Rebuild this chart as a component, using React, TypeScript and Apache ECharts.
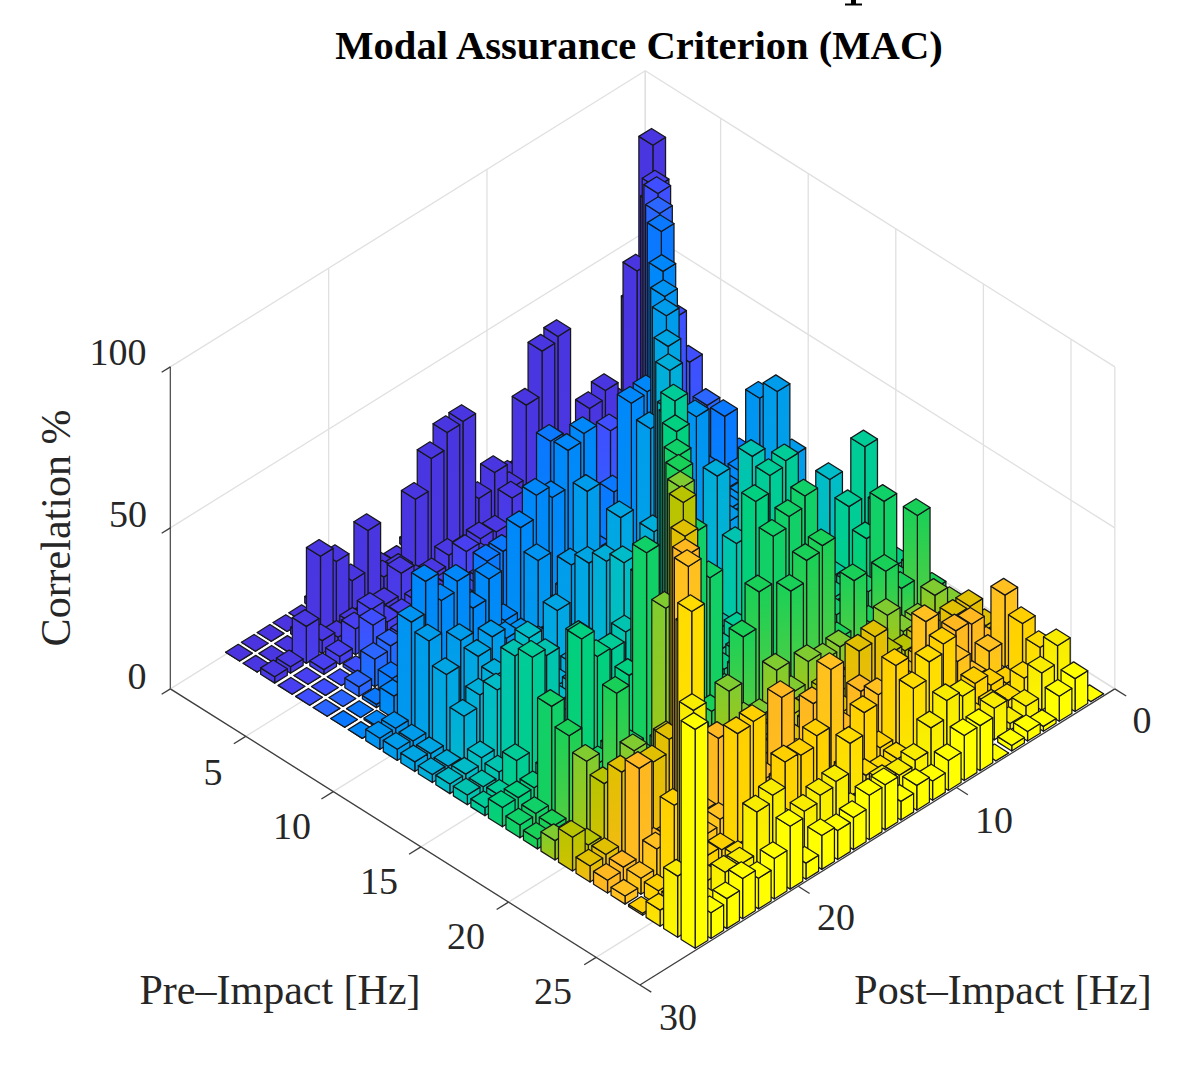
import React, { useEffect, useRef } from "react";
import * as echarts from "echarts";

const postCount = 26;
const preTicks = [5, 10, 15, 20, 25];
const postTicks = [0, 10, 20, 30];
const zTicks = [0, 50, 100];

const correlation: number[][] = [
  [34,6,3,4,3,3,2,4,5,3,3,2,2,3,2,0,1,0,0,1,2,0,0,0,0,0],
  [87,51,8,20,17.5,6,46,44.5,30.8,8,16,11,38,37.6,32.6,23,4,5,22.5,10,19,23.7,2,0,0,0],
  [10,75,6,5,8,4,6,5,3,6,11.5,4,5,4,6,3,4,9.6,3,2,3,2,4,11.5,2,2],
  [6,5,87,5,4,6,5,3,6,4,3,2,3,5,10.6,3,4,4,3,4,11,8,2.5,1.5,0,0],
  [5,33,49.6,91.5,6,5,27,4,5,3,6,4,5,3,5,4,6,5,3,3,3,12.6,1,0,0,0],
  [4,23,6,5,91.8,6,5,8,4,5,6,4,5,6,4,5,7,4,6,5,4,9.6,8.5,3,0,0],
  [8,23,9,6,10,92.7,7,5,21,6,5,8,49,6,7,24,24,5,6,4,5,3,6,1,0,0],
  [5,9,7,10,8,6,86.8,52.5,52,8,7,51.8,49.6,38,41.8,34.8,9,25,19,30.4,27.5,36.5,5,7,0.5,0],
  [6,35.5,8,7,10,42,9,85.5,8,6,9,8,7,12,9,28,8,10,6,5,5,8,6,33.4,3.5,3.5],
  [18,41,9,7,10,8,6,9,86,54,7,9,10,46.8,27,8,9,7,8,20,10,25,8,31,3,3.5],
  [7,6,8,5,7,9,8,6,5,83,8,7,39,10,31,9,22.4,8,7,9,6,23.5,6,24,2.5,3],
  [6,8,7,9,6,8,7,40,6,5,82,35,8,9,35,7,9,6,8,7,5,21,18,14.5,2,2.5],
  [7,24,6,8,7,5,9,7,8,6,8,76,7,32,38,8,6,9,7,8,33,9,23,5,3,3],
  [8,6,7,5,9,8,7,53,29,6,8,7,80,7,9,23,8,6,9,7,31,8,37,4,2.5,3],
  [6,41,25.5,7,8,5,52,50.5,7,9,6,8,7,92,6,7,5,27,8,37,7,9,40,11,3,2.5],
  [5,26,19,8,7,9,6,8,7,52,8,6,9,7,89,8,49.6,22.5,9,34.5,43,7,8,6,6,6],
  [7,6,34,9,7,8,6,51,47.7,44.6,8,9,6,44,61,88,8,64,7,9,8,6,7,34.7,4.5,4],
  [4,30,10.4,18.8,6,22,7,39,37.5,31,8,36.9,26,7,9,6,89.7,8,6,9,33,7,8,29,4,3],
  [3,8.6,4,3.5,11.6,5,4,11,10,12.6,6,16,5,7,18.7,6,5,91,56.7,6,18.6,5,7,24.5,4,6],
  [2,4,3,5,4,6,3,5,4,7,5,6,4,5,6,4,7,5,93,23,6,5,4,21,5,10.5],
  [3,12,12,4,5,3,6,21,19.6,4,5,6,4,5,6,4,5,6,4,89,29,25,5,28,5.5,5],
  [3,4,13,14,5,4,6,5,4,13.6,5,4,19,6,27,5,4,6,26.6,7,89.5,5,6,32.6,5,4],
  [2,22.4,8,3,11,4,29.5,5,4,16,6,5,33,6,5,7,4,6,5,8,6,92.6,7,11,5,2.5],
  [2,17,1.5,4,7.6,3,26,5,4,28.5,6,20,5,4,22,19,20,6,38.7,38,5,6,80,28,4.5,0.6],
  [1,13,6.5,2.7,4,3,5,4,30,24.8,6,5,7,20,4,6,5,7,4,5,6,4,5,91.6,5,5],
  [2,17,11.6,4.3,2,9.8,3,19.7,21.4,16,9,7.4,8.5,5,6,17.7,16.5,14.6,7,25.7,23.6,10.5,11,4,67.4,19],
  [0,10.2,7.8,1.5,3,1.7,0,14,14,9.3,6,7.7,5.8,14,13.8,10,9,10.5,5,19.5,12.6,9.5,12.5,9.3,8,68],
];

const rowColors = [
  "#4b34df","#4a36e0","#4a38e4","#4840f0","#3f4fff","#2a66ff","#0a78ff","#0088fa","#0094f2",
  "#009cec","#00a6e4","#00aeda","#00bcc8","#00c4b0","#00cc98","#00d080","#10d068","#18d058",
  "#80cc30","#b8c400","#e0c000","#ffb820","#ffc020","#ffd000","#ffdc00","#f8ec00","#ffff00",
];

const W = 1186, H = 1073;
const barWidth = 0.8;
const preMin = 0.7, preMax = 27.5, postMin = 0, postMax = 30;

function project(p: number, q: number, z: number): [number, number] {
  return [633 + 17.52 * p - 15.83 * q, 385 + 11.05 * p + 9.87 * q - 3.22 * z];
}

const cells: number[][] = [];
correlation.forEach((row, i) => row.slice(0, postCount).forEach((v, j) => cells.push([i + 1, j + 1, v])));
cells.sort((a, b) => a[0] + a[1] - (b[0] + b[1]) || a[0] - b[0]);

const segments: any[] = [];
const grid = "#e0e0e0", dark = "#3c3c3c";
const seg = (a: number[], b: number[], c: string) => segments.push([...a, ...b, c]);
zTicks.forEach((z) => {
  seg([preMin, postMax, z], [preMin, postMin, z], grid);
  seg([preMin, postMin, z], [preMax, postMin, z], grid);
});
postTicks.forEach((q) => {
  seg([preMin, q, 0], [preMin, q, 100], grid);
  seg([preMin, q, 0], [preMax, q, 0], grid);
});
preTicks.forEach((p) => {
  seg([p, postMin, 0], [p, postMin, 100], grid);
  seg([p, postMin, 0], [p, postMax, 0], grid);
});
seg([preMin, postMin, 0], [preMin, postMin, 100], grid);
seg([preMax, postMin, 0], [preMax, postMin, 100], grid);
seg([preMin, postMax, 0], [preMin, postMax, 100], "#555555");
seg([preMin, postMax, 0], [preMax, postMax, 0], dark);
seg([preMax, postMax, 0], [preMax, postMin, 0], dark);
zTicks.forEach((z) => seg([preMin, postMax, z], [preMin, postMax + 0.55, z], dark));
preTicks.forEach((p) => seg([p, postMax, 0], [p, postMax + 0.75, 0], dark));
postTicks.forEach((q) => seg([preMax, q, 0], [preMax + 0.65, q, 0], dark));

function mix(a: string, b: string, t: number) {
  const n = (s: string, i: number) => parseInt(s.slice(i, i + 2), 16);
  const c = [1, 3, 5].map((i) => Math.round(n(a, i) * (1 - t) + n(b, i) * t));
  return `rgb(${c[0]},${c[1]},${c[2]})`;
}

function App() {
  const ref = useRef<HTMLDivElement>(null);
  useEffect(() => {
    document.body.style.margin = "0";
    const chart = echarts.init(ref.current!, undefined, { renderer: "svg" });
    const serif = "'Liberation Serif', 'DejaVu Serif', serif";
    const label = (text: string, x: number, y: number, extra: any = {}) => ({
      type: "text",
      x,
      y,
      silent: true,
      style: { text, fill: "#262626", font: `38px ${serif}`, textAlign: "center", textVerticalAlign: "middle", ...extra },
    });
    chart.setOption({
      animation: false,
      backgroundColor: "#ffffff",
      grid: { left: 0, right: 0, top: 0, bottom: 0 },
      xAxis: { type: "value", min: 0, max: W, show: false },
      yAxis: { type: "value", min: 0, max: H, inverse: true, show: false },
      series: [
        {
          type: "custom",
          silent: true,
          clip: false,
          data: segments,
          encode: { x: 0, y: 1 },
          renderItem: (_: any, api: any) => {
            const a = api.coord(project(api.value(0), api.value(1), api.value(2)));
            const b = api.coord(project(api.value(3), api.value(4), api.value(5)));
            return {
              type: "line",
              shape: { x1: a[0], y1: a[1], x2: b[0], y2: b[1] },
              style: { stroke: api.value(6), lineWidth: 1.3 },
            };
          },
          dimensions: ["p1", "q1", "z1", "p2", "q2", "z2", { name: "c", type: "ordinal" }],
        },
        {
          type: "custom",
          silent: true,
          clip: false,
          data: cells,
          encode: { x: 0, y: 1 },
          renderItem: (_: any, api: any) => {
            const p = api.value(0), q = api.value(1), v = api.value(2);
            const h = barWidth / 2;
            const pt = (dp: number, dq: number, z: number) => api.coord(project(p + dp, q + dq, z));
            const top = rowColors[p - 1];
            const next = rowColors[Math.min(p, 26)];
            const fill = v > 4
              ? {
                  type: "linear", x: 0, y: 0, x2: 0, y2: 1,
                  colorStops: [
                    { offset: 0, color: top },
                    { offset: 1, color: mix(top, next, 0.6) },
                  ],
                }
              : top;
            const edge = { stroke: "#17171a", lineWidth: 1.25, lineJoin: "round" };
            return {
              type: "group",
              children: [
                {
                  type: "polygon",
                  shape: { points: [pt(h, -h, v), pt(h, h, v), pt(h, h, 0), pt(h, -h, 0)] },
                  style: { fill, ...edge },
                },
                {
                  type: "polygon",
                  shape: { points: [pt(-h, h, v), pt(h, h, v), pt(h, h, 0), pt(-h, h, 0)] },
                  style: { fill, ...edge },
                },
                {
                  type: "polygon",
                  shape: { points: [pt(-h, -h, v), pt(h, -h, v), pt(h, h, v), pt(-h, h, v)] },
                  style: { fill: top, ...edge },
                },
              ],
            };
          },
        },
      ],
      graphic: [
        { type: "rect", silent: true, shape: { x: 851, y: 0, width: 5, height: 4 }, style: { fill: "#000" } },
        { type: "rect", silent: true, shape: { x: 845, y: 3.5, width: 17, height: 2 }, style: { fill: "#000" } },
        label("Modal Assurance Criterion (MAC)", 639, 45, { fill: "#000", font: `bold 40.6px ${serif}` }),
        label("100", 118, 352),
        label("50", 128, 514),
        label("0", 137, 676),
        label("5", 213, 772),
        label("10", 292, 826),
        label("15", 379, 881),
        label("20", 466, 936),
        label("25", 553, 991),
        label("0", 1142, 720),
        label("10", 994, 820),
        label("20", 836, 917),
        label("30", 678, 1017),
        label("Pre–Impact [Hz]", 280, 990, { font: `42px ${serif}` }),
        label("Post–Impact [Hz]", 1003, 990, { font: `42px ${serif}` }),
        { ...label("Correlation %", 0, 0, { font: `42px ${serif}` }), x: 56, y: 528, rotation: Math.PI / 2 },
      ],
    });
    return () => chart.dispose();
  }, []);
  return <div ref={ref} style={{ position: "absolute", left: 0, top: 0, width: W, height: H }} />;
}

export default App;
